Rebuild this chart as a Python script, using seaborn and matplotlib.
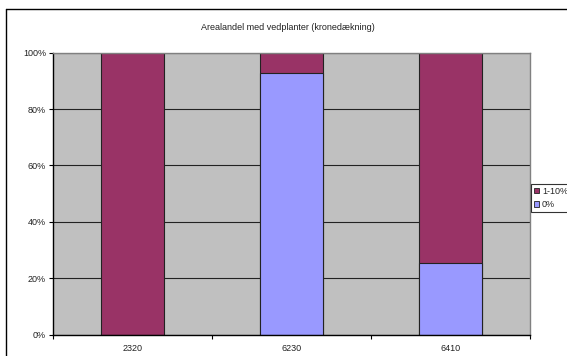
import matplotlib
matplotlib.use("Agg")
import matplotlib.pyplot as plt
from matplotlib.lines import Line2D
from matplotlib.patches import Patch
from matplotlib.ticker import FixedLocator, PercentFormatter
import seaborn as sns
import pandas as pd

# Share of area by woody-plant crown cover class, per habitat type
categories = ["2320", "6230", "6410"]
share_0 = [0.0, 92.7, 25.3]
share_1_10 = [100.0, 7.3, 74.7]

plum = "#993366"
periwinkle = "#9999FF"
plot_bg = "#C0C0C0"

sns.set_theme(style="white")
plt.rcParams["font.family"] = ["Liberation Sans", "DejaVu Sans"]

df = pd.DataFrame({
    "habitat": categories,
    "zero": share_0,
    "total": [a + b for a, b in zip(share_0, share_1_10)],
})

fig = plt.figure(figsize=(5.67, 3.56), dpi=100)
ax = fig.add_axes([53 / 567, 1 - 334.5 / 356, (530 - 53) / 567, (334.5 - 52.7) / 356])
ax.set_facecolor(plot_bg)
ax.set_axisbelow(True)

# stacked bars: full column in the upper class colour, lower class drawn over it
sns.barplot(data=df, x="habitat", y="total", color=plum, width=0.4,
            edgecolor="#222222", linewidth=0.8, saturation=1, ax=ax)
sns.barplot(data=df, x="habitat", y="zero", color=periwinkle, width=0.4,
            edgecolor="#222222", linewidth=0.8, saturation=1, ax=ax)

ax.set_xlim(-0.5, 2.5)
ax.set_ylim(0, 100)
ax.set_xlabel("")
ax.set_ylabel("")

ax.set_yticks([0, 20, 40, 60, 80, 100])
ax.yaxis.set_major_formatter(PercentFormatter(decimals=0))
ax.yaxis.grid(True, color="#222222", linewidth=0.8)
ax.xaxis.grid(False)

ax.xaxis.set_minor_locator(FixedLocator([-0.5, 0.5, 1.5, 2.5]))
ax.tick_params(axis="x", which="major", length=0, labelsize=6.5, pad=7, colors="#222222")
ax.tick_params(axis="x", which="minor", length=3, width=0.8, direction="out",
               color="black", bottom=True)
ax.tick_params(axis="y", which="major", length=3, width=0.8, direction="out",
               labelsize=6.5, pad=2, colors="#222222", left=True)
ax.tick_params(axis="y", colors="black", which="major")
for lab in ax.get_yticklabels() + ax.get_xticklabels():
    lab.set_color("#222222")

for side in ("left", "bottom"):
    ax.spines[side].set_color("black")
    ax.spines[side].set_linewidth(1.0)
for side in ("top", "right"):
    ax.spines[side].set_color("#808080")
    ax.spines[side].set_linewidth(1.0)

fig.text(288 / 567, 1 - 27 / 356, "Arealandel med vedplanter (kronedækning)",
         ha="center", va="center", fontsize=6.5, color="#222222")

handles = [Patch(facecolor=plum, edgecolor="#222222", linewidth=0.6, label="1-10%"),
           Patch(facecolor=periwinkle, edgecolor="#222222", linewidth=0.6, label="0%")]
leg = fig.legend(handles=handles, loc="upper left",
                 bbox_to_anchor=(531 / 567, 1 - 184 / 356),
                 fontsize=6.5, frameon=True, fancybox=False, handlelength=0.6,
                 handleheight=0.6, handletextpad=0.3, borderpad=0.3,
                 labelspacing=0.5, borderaxespad=0)
leg.get_frame().set_edgecolor("black")
leg.get_frame().set_linewidth(0.8)

# outer chart-area border (top and left edges)
fig.add_artist(Line2D([6 / 567, 1], [1 - 9 / 356, 1 - 9 / 356], color="black", linewidth=1.0))
fig.add_artist(Line2D([6 / 567, 6 / 567], [0, 1 - 9 / 356], color="black", linewidth=1.0))

fig.savefig("out.png", dpi=100, facecolor="white")
